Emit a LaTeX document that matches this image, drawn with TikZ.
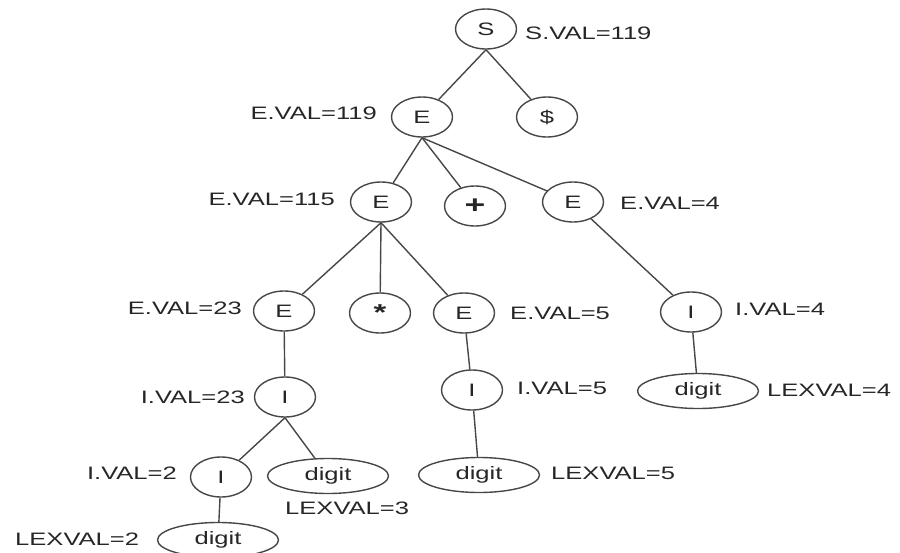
\documentclass[tikz,border=0pt]{standalone}
\usepackage{fontspec}
\setmainfont{Liberation Sans}[FakeStretch=1.42]
\usetikzlibrary{shapes.geometric}
\begin{document}
\begin{tikzpicture}[x=1pt,y=-1pt,
  every node/.style={font=\fontsize{18}{20}\selectfont, text=black!85},
  sym/.style={ellipse, draw=black!72, line width=1.4pt, minimum width=61pt, minimum height=40pt, inner sep=0pt},
  tok/.style={ellipse, draw=black!72, line width=1.4pt, minimum width=121pt, minimum height=35pt, inner sep=0pt},
  lab/.style={inner sep=0pt},
  edge/.style={draw=black!72, line width=1.4pt}]
\useasboundingbox (0,0) rectangle (900,552);
% nodes
\node[sym] (S) at (486,29) {S};
\node[sym] (E1) at (422,117) {E};
\node[sym] (D) at (547,117) {\$};
\node[sym, font=\fontsize{25}{25}\selectfont\bfseries] (P) at (475,206) {+};
\node[sym] (E2) at (381,202) {E};
\node[sym] (E3) at (573,202) {E};
\node[sym] (E4) at (284,311) {E};
\node[sym, font=\fontsize{23}{23}\selectfont\bfseries] (M) at (380,313) {\raisebox{-3pt}{*}};
\node[sym] (E5) at (464,313) {E};
\node[sym] (I4) at (691,312) {I};
\node[sym] (I1) at (285,397) {I};
\node[sym] (I5) at (472,390) {I};
\node[tok] (G4) at (698,391) {digit};
\node[sym] (I2) at (221,477) {I};
\node[tok] (G3) at (328,476) {digit};
\node[tok] (G5) at (479,475) {digit};
\node[tok] (G2) at (218,540) {digit};
% labels
\node[lab, anchor=west] (lS) at (525,33) {S.VAL=119};
\node[lab, anchor=east] (lE1) at (377,113) {E.VAL=119};
\node[lab, anchor=east] (lE2) at (335,199) {E.VAL=115};
\node[lab, anchor=west] (lE3) at (620,203) {E.VAL=4};
\node[lab, anchor=east] (lE4) at (242,308) {E.VAL=23};
\node[lab, anchor=west] (lE5) at (510,313) {E.VAL=5};
\node[lab, anchor=west] (lI4) at (735,309) {I.VAL=4};
\node[lab, anchor=east] (lI1) at (245,397) {I.VAL=23};
\node[lab, anchor=west] (lI5) at (517,388) {I.VAL=5};
\node[lab, anchor=west] (lG4) at (767,390) {LEXVAL=4};
\node[lab, anchor=east] (lI2) at (177,473) {I.VAL=2};
\node[lab, anchor=west] (lG3) at (285,508) {LEXVAL=3};
\node[lab, anchor=west] (lG5) at (551,473) {LEXVAL=5};
\node[lab, anchor=west] (lG2) at (15,539) {LEXVAL=2};
% edges
\draw[edge] (S.south) -- (E1);
\draw[edge] (S.south) -- (D);
\draw[edge] (E1.south) -- (E2);
\draw[edge] (E1.south) -- (P);
\draw[edge] (E1.south) -- (E3);
\draw[edge] (E2.south) -- (E4);
\draw[edge] (E2.south) -- (M);
\draw[edge] (E2.south) -- (E5);
\draw[edge] (E3) -- (I4);
\draw[edge] (I4) -- (G4);
\draw[edge] (E4) -- (I1);
\draw[edge] (I1.south) -- (I2);
\draw[edge] (I1.south) -- (G3);
\draw[edge] (I2) -- (G2);
\draw[edge] (E5) -- (I5);
\draw[edge] (I5) -- (G5);
\end{tikzpicture}
\end{document}
